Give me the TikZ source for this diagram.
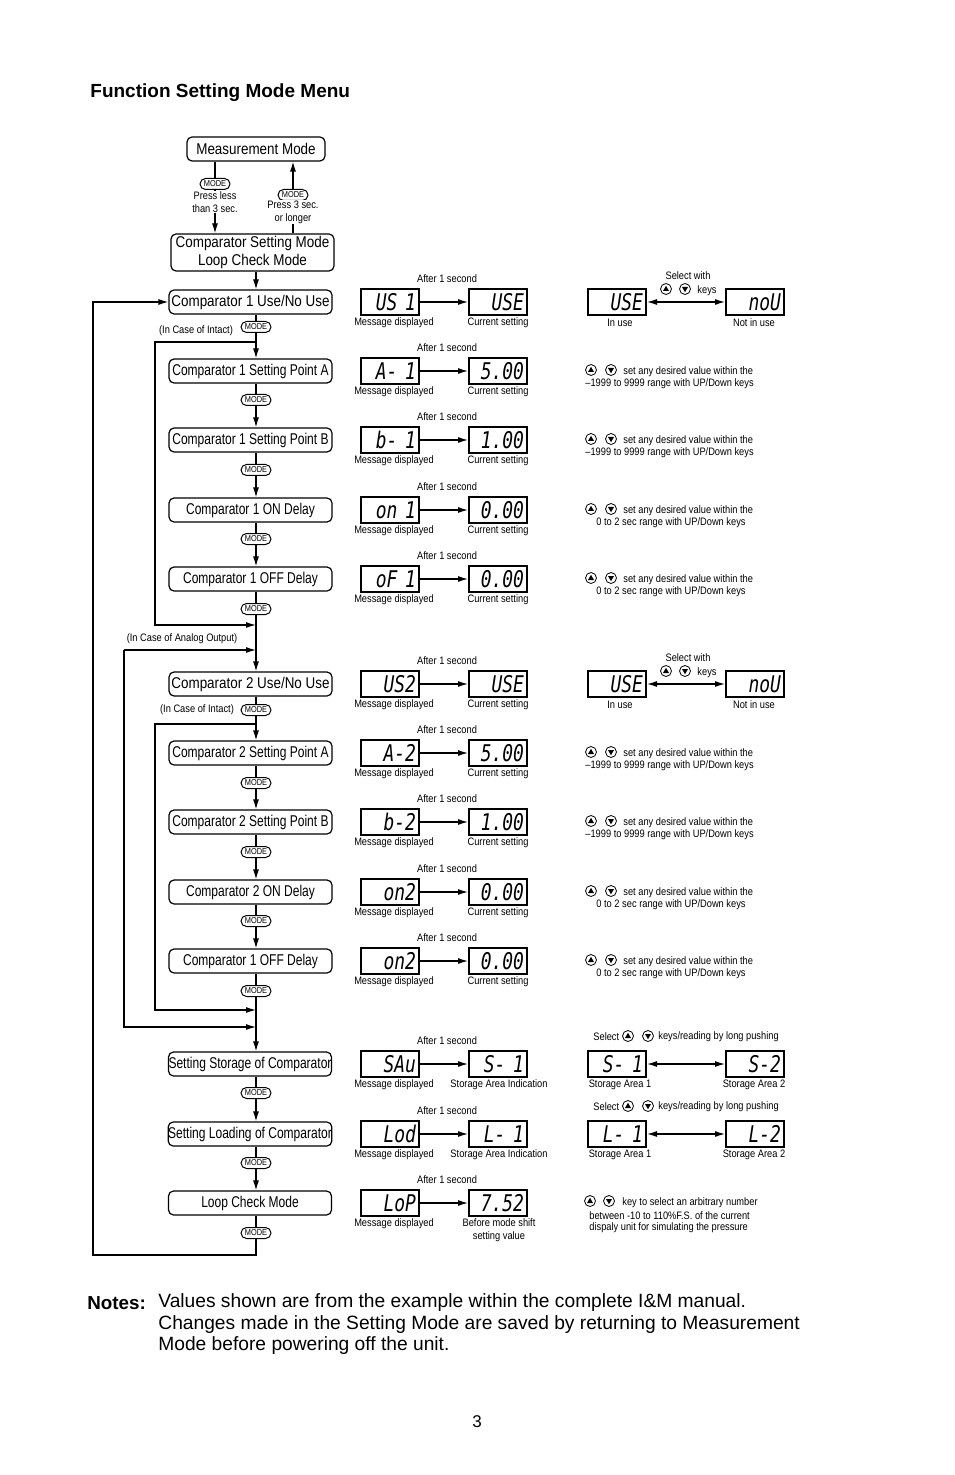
\documentclass[tikz,border=0pt]{standalone}
\usepackage{fontspec}
\setmainfont{Liberation Sans}
\newfontfamily\cond[FakeStretch=0.77]{Liberation Sans}
\newfontfamily\wcond[FakeStretch=0.86]{Liberation Sans}
\newfontfamily\lcond[FakeStretch=0.86]{Liberation Sans}
\newfontfamily\segfont[FakeStretch=0.78]{DejaVu Sans Mono}
\usetikzlibrary{arrows.meta,shapes.misc}
\begin{document}
\begin{tikzpicture}[x=0.5pt,y=-0.5pt,
 box/.style={draw,line width=0.6pt,rounded corners=2.5pt,minimum width=81.5pt,minimum height=12pt,inner sep=0pt,font=\fontsize{7.8}{8.6}\cond},
 wbox/.style={box,font=\fontsize{7.8}{8.6}\wcond},
 disp/.style={draw,line width=1pt,minimum height=13pt,text width=26pt,inner xsep=1.5pt,inner ysep=0pt,align=right,font=\fontsize{11.5}{11.5}\segfont\itshape},
 lbl/.style={font=\fontsize{5.4}{6.4}\lcond,inner sep=0pt},
 modek/.style={draw,rounded rectangle,fill=white,line width=0.5pt,inner xsep=0.5pt,inner ysep=0pt,minimum width=16pt,minimum height=5.5pt,font=\fontsize{4.3}{5}\lcond},
 arr/.style={line width=0.6pt,-{Latex[length=5pt,width=3pt]}},
 dbl/.style={line width=0.6pt,{Latex[length=5pt,width=3pt]}-{Latex[length=5pt,width=3pt]}},
 upkey/.pic={\draw[line width=0.4pt] (0,0) circle (5.5); \fill (0,-3.2) -- (3,2) -- (-3,2) -- cycle;},
 dnkey/.pic={\draw[line width=0.4pt] (0,0) circle (5.5); \fill (0,3.2) -- (3,-2) -- (-3,-2) -- cycle;},
]
\useasboundingbox (0,0) rectangle (954,1475);
\coordinate (col) at (256,0);

% title
\node[anchor=west,inner sep=0pt,font=\fontsize{9.5}{11}\bfseries] (title) at (90,93) {Function Setting Mode Menu};

% top
\node[wbox,minimum width=69pt] (mm) at (256,149) {Measurement Mode};
\node[wbox,minimum height=18.5pt,align=center] (csm) at (252.5,252.5) {Comparator Setting Mode\\Loop Check Mode};
\draw[arr] (mm.south -| 215,0) -- (csm.north -| 215,0);
\draw[arr] (csm.north -| 293,0) -- (mm.south -| 293,0);
\node[modek] (mt1) at (215,184) {MODE};
\node[lbl,align=center,fill=white,inner sep=0.5pt] (pt1) at (215,202) {Press less\\than 3 sec.};
\node[modek] (mt2) at (293,195) {MODE};
\node[lbl,align=center,fill=white,inner sep=0.5pt] (pt2) at (293,212) {Press 3 sec.\\or longer};

% main column boxes
\node[wbox] (c1u) at (250.5,302) {Comparator 1 Use/No Use};
\node[box] (c1a) at (250.5,371) {Comparator 1 Setting Point A};
\node[box] (c1b) at (250.5,440) {Comparator 1 Setting Point B};
\node[box] (c1on) at (250.5,510) {Comparator 1 ON Delay};
\node[box] (c1off) at (250.5,579) {Comparator 1 OFF Delay};
\node[wbox] (c2u) at (250.5,684) {Comparator 2 Use/No Use};
\node[box] (c2a) at (250.5,753) {Comparator 2 Setting Point A};
\node[box] (c2b) at (250.5,822) {Comparator 2 Setting Point B};
\node[box] (c2on) at (250.5,892) {Comparator 2 ON Delay};
\node[box] (c2off) at (250.5,961) {Comparator 1 OFF Delay};
\node[box] (sto) at (250,1064) {Setting Storage of Comparator};
\node[box] (lod) at (250,1134) {Setting Loading of Comparator};
\node[box] (loop) at (250,1203) {Loop Check Mode};

\draw[arr] (csm.south -| col) -- (c1u.north -| col);
\draw[arr] (c1u.south -| col) -- (c1a.north -| col);
\draw[arr] (c1a.south -| col) -- (c1b.north -| col);
\draw[arr] (c1b.south -| col) -- (c1on.north -| col);
\draw[arr] (c1on.south -| col) -- (c1off.north -| col);
\draw[arr] (c1off.south -| col) -- (c2u.north -| col);
\draw[arr] (c2u.south -| col) -- (c2a.north -| col);
\draw[arr] (c2a.south -| col) -- (c2b.north -| col);
\draw[arr] (c2b.south -| col) -- (c2on.north -| col);
\draw[arr] (c2on.south -| col) -- (c2off.north -| col);
\draw[arr] (c2off.south -| col) -- (sto.north -| col);
\draw[arr] (sto.south -| col) -- (lod.north -| col);
\draw[arr] (lod.south -| col) -- (loop.north -| col);

% branches
\coordinate (j1) at (256,342);
\coordinate (k1) at (256,625);
\coordinate (k2) at (256,650);
\coordinate (j2) at (256,724);
\coordinate (k3) at (256,1010);
\coordinate (k4) at (256,1027);
\coordinate (a1) at (124,650);
\coordinate (b1) at (256,1255);
\draw[arr] (j1) -- (155,342) |- (k1);
\draw[arr] (j2) -- (155,724) |- (k3);
\draw[arr] (a1) -- (k2);
\draw[arr] (a1) |- (k4);
\draw[arr] (loop.south -| col) -- (b1) -- (93,1255) |- (c1u.west);

\node[lbl] (ic1) at (196,331) {(In Case of Intact)};
\node[lbl] (ia) at (182,639) {(In Case of Analog Output)};
\node[lbl] (ic2) at (197,710) {(In Case of Intact)};

\foreach \y [count=\i] in {327,400,470,539,609,710,783,852,921,991,1093,1163,1233}
  \node[modek] (mk\i) at (256,\y) {MODE};

% displays
\foreach \y/\a/\b [count=\i] in {302/US 1/USE,371/A- 1/5.00,440/b- 1/1.00,510/on 1/0.00,579/oF 1/0.00,684/US2/USE,753/A-2/5.00,822/b-2/1.00,892/on2/0.00,961/on2/0.00,1064/SAu/S- 1,1134/Lod/L- 1,1203/LoP/7.52}{
  \node[disp] (dm\i) at (390,\y) {\a};
  \node[disp] (dc\i) at (498,\y) {\b};
  \draw[arr] (dm\i) -- (dc\i);
  \node[lbl] (af\i) at (447,\y-23) {After 1 second};
  \node[lbl] (md\i) at (394,\y+21) {Message displayed};
}
\foreach \y [count=\i] in {302,371,440,510,579,684,753,822,892,961}
  \node[lbl] (cs\i) at (498,\y+21) {Current setting};
\node[lbl] (sa1) at (499,1085) {Storage Area Indication};
\node[lbl] (sa2) at (499,1155) {Storage Area Indication};
\node[lbl,align=center] (bm) at (499,1230) {Before mode shift\\setting value};

% use / no use
\foreach \y [count=\i] in {302,684}{
  \node[disp] (iu\i) at (617,\y) {USE};
  \node[disp] (nu\i) at (755,\y) {noU};
  \draw[dbl] (iu\i) -- (nu\i);
  \node[lbl] (sw\i) at (688,\y-26) {Select with};
  \pic at (666,\y-13) {upkey};
  \pic at (685,\y-13) {dnkey};
  \node[lbl] (ky\i) at (707,\y-11) {keys};
  \node[lbl] (in\i) at (620,\y+21) {In use};
  \node[lbl] (ni\i) at (754,\y+21) {Not in use};
}

% value notes
\foreach \y [count=\i] in {371,440,753,822}{
  \pic at (591,\y-1) {upkey};
  \pic at (611,\y-1) {dnkey};
  \node[lbl,anchor=west] (ra\i) at (623,\y+1) {set any desired value within the};
  \node[lbl,anchor=west] (rb\i) at (585,\y+13) {–1999 to 9999 range with UP/Down keys};
}
\foreach \y [count=\i] in {510,579,892,961}{
  \pic at (591,\y-1) {upkey};
  \pic at (611,\y-1) {dnkey};
  \node[lbl,anchor=west] (da\i) at (623,\y+1) {set any desired value within the};
  \node[lbl,anchor=west] (db\i) at (596,\y+13) {0 to 2 sec range with UP/Down keys};
}

% storage / loading
\foreach \y/\p [count=\i] in {1064/S,1134/L}{
  \node[lbl,anchor=west] (se\i) at (593,\y-27) {Select};
  \pic at (628,\y-28) {upkey};
  \pic at (648,\y-28) {dnkey};
  \node[lbl,anchor=west] (kr\i) at (658,\y-27) {keys/reading by long pushing};
  \node[disp] (s1\i) at (617,\y) {\p- 1};
  \node[disp] (s2\i) at (755,\y) {\p-2};
  \draw[dbl] (s1\i) -- (s2\i);
  \node[lbl] (st1\i) at (620,\y+21) {Storage Area 1};
  \node[lbl] (st2\i) at (754,\y+21) {Storage Area 2};
}

% loop check note
\pic at (590,1201) {upkey};
\pic at (609,1201) {dnkey};
\node[lbl,anchor=west] (lc1) at (622,1203) {key to select an arbitrary number};
\node[lbl,anchor=west] (lc2) at (589,1216) {between -10 to 110\%F.S. of the current};
\node[lbl,anchor=west] (lc3) at (589,1228) {dispaly unit for simulating the pressure};

% notes
\node[anchor=west,inner sep=0pt,font=\fontsize{9.4}{11}\bfseries] (nt) at (87,1303) {Notes:};
\node[anchor=west,inner sep=0pt,font=\fontsize{9.6}{11}\selectfont] (n1) at (158,1303) {Values shown are from the example within the complete I\&M manual.};
\node[anchor=west,inner sep=0pt,font=\fontsize{9.6}{11}\selectfont] (n2) at (158,1325) {Changes made in the Setting Mode are saved by returning to Measurement};
\node[anchor=west,inner sep=0pt,font=\fontsize{9.6}{11}\selectfont] (n3) at (158,1346) {Mode before powering off the unit.};
\node[inner sep=0pt,font=\fontsize{8.5}{10}\selectfont] (pg) at (477,1422) {3};
\end{tikzpicture}
\end{document}
